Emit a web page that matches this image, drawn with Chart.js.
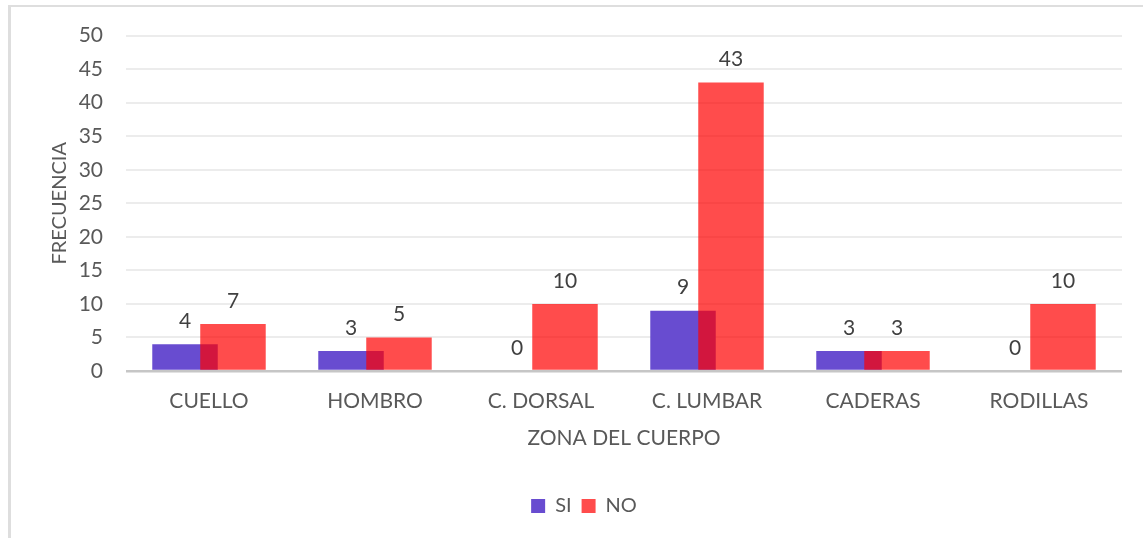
<!DOCTYPE html>
<html>
<head>
<meta charset="utf-8">
<script src="https://cdn.jsdelivr.net/npm/chart.js@4/dist/chart.umd.min.js"></script>
<style>
  html, body { margin: 0; padding: 0; background: #fff; overflow: hidden; }
  #c { position: absolute; left: 0; top: 0; }
  .bl { position: absolute; left: 8px; top: 5px; width: 3px; height: 533px; background: #dedede; }
  .bt { position: absolute; left: 8px; top: 5px; width: 1135px; height: 2px; background: #dedede; }
</style>
</head>
<body>
<canvas id="c" width="1143" height="538"></canvas>
<div class="bl"></div><div class="bt"></div>
<script>
const categories = ["CUELLO", "HOMBRO", "C. DORSAL", "C. LUMBAR", "CADERAS", "RODILLAS"];
const siValues = [4, 3, 0, 9, 3, 0];
const noValues = [7, 5, 10, 43, 3, 10];
const seriesNames = ["SI", "NO"];
const yMin = 0, yMax = 50, yStep = 5;
const xTitle = "ZONA DEL CUERPO";
const yTitle = "FRECUENCIA";

const FONT = "Lato, 'Open Sans', sans-serif";

// Draw datasets in index order (SI first, NO on top) and then the value labels
const drawOrderAndLabels = {
  id: 'drawOrderAndLabels',
  beforeDatasetsDraw(chart) {
    const ctx = chart.ctx;
    chart.data.datasets.forEach((ds, i) => {
      const meta = chart.getDatasetMeta(i);
      if (!meta.hidden && meta.controller) {
        ctx.save();
        meta.controller.draw();
        ctx.restore();
      }
    });
    ctx.save();
    ctx.font = "21px " + FONT;
    ctx.fillStyle = "#404040";
    ctx.textAlign = "center";
    ctx.textBaseline = "middle";
    chart.data.datasets.forEach((ds, i) => {
      const meta = chart.getDatasetMeta(i);
      meta.data.forEach((el, j) => {
        ctx.fillText(String(ds.data[j]), el.x, el.y - 23);
      });
    });
    ctx.restore();
    return false;
  }
};

new Chart(document.getElementById('c'), {
  type: 'bar',
  data: {
    labels: categories,
    datasets: [
      { label: seriesNames[0], data: siValues, backgroundColor: 'rgb(104,76,208)', borderWidth: 0 },
      { label: seriesNames[1], data: noValues, backgroundColor: 'rgba(255,0,0,0.7)', borderWidth: 0 }
    ]
  },
  options: {
    responsive: false,
    animation: false,
    categoryPercentage: 0.578,
    barPercentage: 1.365,
    layout: { padding: { left: 46, right: 21, top: 32, bottom: 12 } },
    plugins: {
      legend: {
        position: 'bottom',
        labels: {
          boxWidth: 14, boxHeight: 14, padding: 10,
          color: '#595959',
          font: { family: FONT, size: 20 }
        }
      },
      tooltip: { enabled: false }
    },
    scales: {
      x: {
        grid: { display: false, drawTicks: false },
        border: { display: false },
        ticks: { color: '#595959', font: { family: FONT, size: 21 }, padding: 18, maxRotation: 0 },
        title: { display: true, text: xTitle, color: '#595959', font: { family: FONT, size: 21 }, padding: { top: 0, bottom: 35 } },
        afterFit(s) { s.height = 115; }
      },
      y: {
        min: yMin, max: yMax,
        ticks: { stepSize: yStep, color: '#595959', font: { family: FONT, size: 21 }, padding: 23 },
        grid: {
          drawTicks: false,
          color: (c) => c.tick && c.tick.value === 0 ? '#c6c6c6' : '#ececec',
          lineWidth: (c) => c.tick && c.tick.value === 0 ? 2.5 : 2
        },
        border: { display: false },
        title: { display: true, text: yTitle, color: '#595959', font: { family: FONT, size: 20 }, padding: { top: 2, bottom: 0 } },
        afterFit(s) { s.width = 80; }
      }
    }
  },
  plugins: [drawOrderAndLabels]
});
</script>
</body>
</html>
